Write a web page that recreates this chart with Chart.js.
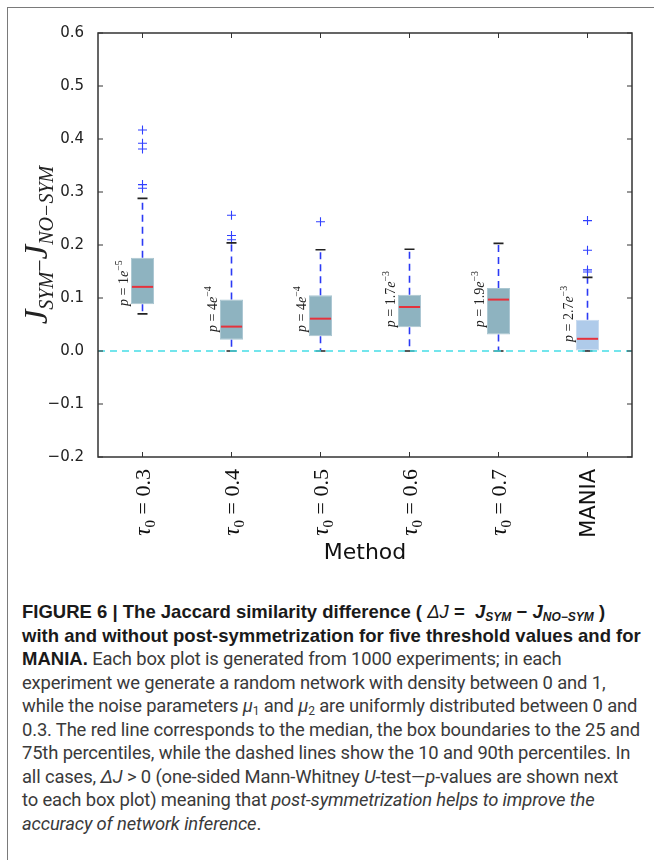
<!DOCTYPE html>
<html>
<head>
<meta charset="utf-8">
<script src="https://cdn.jsdelivr.net/npm/chart.js@4"></script>
<style>
  body { margin: 0; width: 654px; height: 860px; background: #fff; position: relative; overflow: hidden; }
  #outer { position: absolute; left: 7px; top: 7px; right: 0; bottom: 0; border-left: 1.5px solid #7a7a7a; border-top: 1.5px solid #7a7a7a; }
  #chartBox { position: absolute; left: 0; top: 0; }
  #caption { position: absolute; left: 22px; top: 600px; font-family: Roboto, "Liberation Sans", sans-serif; font-size: 18.4px; line-height: 23.5px; color: #3a3a3a; white-space: nowrap; letter-spacing: -0.15px; }
  #caption b { color: #1a1a1a; font-family: "Liberation Sans", Arial, sans-serif; font-size: 18.5px; letter-spacing: 0; }
  #caption sub { font-size: 12px; vertical-align: -3px; line-height: 0; }
</style>
</head>
<body>
<div id="outer"></div>
<div id="chartBox"><canvas id="myChart" width="654" height="570"></canvas></div>
<div id="caption">
<b>FIGURE 6 | The Jaccard similarity difference (&nbsp;<i style="font-weight:normal">ΔJ</i> =&nbsp;&nbsp;<i>J<sub>SYM</sub></i>&nbsp;− <i>J<sub>NO−SYM</sub></i>&nbsp;)</b><br>
<b>with and without post-symmetrization for five threshold values and for</b><br>
<b>MANIA.</b> Each box plot is generated from 1000 experiments; in each<br>
experiment we generate a random network with density between 0 and 1,<br>
while the noise parameters <i>μ</i><sub>1</sub> and <i>μ</i><sub>2</sub> are uniformly distributed between 0 and<br>
0.3. The red line corresponds to the median, the box boundaries to the 25 and<br>
75th percentiles, while the dashed lines show the 10 and 90th percentiles. In<br>
all cases, <i>ΔJ</i> &gt; 0 (one-sided Mann-Whitney <i>U</i>-test—<i>p</i>-values are shown next<br>
to each box plot) meaning that <i>post-symmetrization helps to improve the</i><br>
<i>accuracy of network inference</i>.
</div>
<script>
// Data
const categories = ["τ₀ = 0.3", "τ₀ = 0.4", "τ₀ = 0.5", "τ₀ = 0.6", "τ₀ = 0.7", "MANIA"];
const whiskerLow = [0.070, 0.0, 0.0, 0.0, 0.0, 0.0];
const q1 = [0.088, 0.021, 0.028, 0.045, 0.031, 0.001];
const medians = [0.121, 0.046, 0.061, 0.083, 0.097, 0.023];
const q3 = [0.176, 0.097, 0.105, 0.106, 0.119, 0.059];
const whiskerHigh = [0.288, 0.204, 0.191, 0.192, 0.203, 0.139];
const outliers = [
  [0.417, 0.392, 0.381, 0.314, 0.307],
  [0.256, 0.218, 0.210],
  [0.244],
  [],
  [],
  [0.246, 0.190, 0.153, 0.149],
];
const pValues = ["1e", "4e", "4e", "1.7e", "1.9e", "2.7e"];
const pExponents = ["−5", "−4", "−4", "−3", "−3", "−3"];
const pLabelAt = [0.085, 0.036, 0.036, 0.045, 0.045, 0.017];
const yTicks = [-0.2, -0.1, 0.0, 0.1, 0.2, 0.3, 0.4, 0.5, 0.6];

const outlierPoints = [];
outliers.forEach((list, i) => list.forEach(v => outlierPoints.push({ x: categories[i], y: v })));

// draw a run of [font, text, dy] pieces at the current origin
function drawRun(ctx, parts, startX) {
  let px = startX;
  parts.forEach(p => {
    ctx.font = p[0];
    ctx.fillText(p[1], px, p[2]);
    px += ctx.measureText(p[1]).width;
  });
}
function runWidth(ctx, parts) {
  let w = 0;
  parts.forEach(p => { ctx.font = p[0]; w += ctx.measureText(p[1]).width; });
  return w;
}

// whiskers, medians, frame, labels
const boxExtras = {
  id: "boxExtras",
  afterDatasetsDraw(chart) {
    const { ctx, chartArea: a, scales: { x, y } } = chart;
    const bars = chart.getDatasetMeta(0).data;
    ctx.save();
    categories.forEach((c, i) => {
      const cx = x.getPixelForValue(i);
      const half = bars[i].width / 2;
      // dashed whiskers
      ctx.setLineDash([7, 5]);
      ctx.strokeStyle = "#2b3af5";
      ctx.lineWidth = 1.6;
      ctx.beginPath();
      ctx.moveTo(cx, y.getPixelForValue(q3[i]));
      ctx.lineTo(cx, y.getPixelForValue(whiskerHigh[i]));
      ctx.moveTo(cx, y.getPixelForValue(q1[i]));
      ctx.lineTo(cx, y.getPixelForValue(whiskerLow[i]));
      ctx.stroke();
      // caps
      ctx.setLineDash([]);
      ctx.strokeStyle = "#222";
      ctx.beginPath();
      [whiskerHigh[i], whiskerLow[i]].forEach(v => {
        const py = y.getPixelForValue(v);
        ctx.moveTo(cx - 5, py);
        ctx.lineTo(cx + 5, py);
      });
      ctx.stroke();
      // median
      ctx.strokeStyle = "#e5323c";
      ctx.lineWidth = 2;
      ctx.beginPath();
      const my = y.getPixelForValue(medians[i]);
      ctx.moveTo(cx - half + 1, my);
      ctx.lineTo(cx + half - 1, my);
      ctx.stroke();
      // p-value label, rotated
      ctx.save();
      ctx.translate(cx - half - 3, y.getPixelForValue(pLabelAt[i]));
      ctx.rotate(-Math.PI / 2);
      ctx.fillStyle = "#222";
      ctx.textBaseline = "alphabetic";
      ctx.textAlign = "left";
      drawRun(ctx, [
        ["italic 14px 'Liberation Serif'", "p", 0],
        ["14px 'Liberation Serif'", " = " + pValues[i].replace("e", ""), 0],
        ["italic 14px 'Liberation Serif'", "e", 0],
        ["10px 'Liberation Serif'", pExponents[i], -6],
      ], 0);
      ctx.restore();
      // category label, rotated, ending just under the axis
      const parts = c.startsWith("τ₀")
        ? [
            ["italic 23px 'Liberation Serif'", "τ", 0],
            ["15px 'Liberation Serif'", "0", 5],
            ["22px 'Liberation Serif'", " =", 0],
            ["22px 'Liberation Serif'", c.split("=")[1], 0],
          ]
        : [["21px 'DejaVu Sans'", c, 0]];
      ctx.save();
      ctx.translate(cx, a.bottom + 12);
      ctx.rotate(-Math.PI / 2);
      ctx.fillStyle = "#111";
      ctx.textAlign = "left";
      ctx.textBaseline = "alphabetic";
      ctx.translate(0, 7.5);
      drawRun(ctx, parts, -runWidth(ctx, parts));
      ctx.restore();
    });
    // zero reference line
    const zy = y.getPixelForValue(0);
    ctx.setLineDash([7, 5]);
    ctx.strokeStyle = "#45dde6";
    ctx.lineWidth = 1.5;
    ctx.beginPath();
    ctx.moveTo(a.left, zy);
    ctx.lineTo(a.right, zy);
    ctx.stroke();
    ctx.setLineDash([]);
    // frame and inward ticks
    ctx.strokeStyle = "#333";
    ctx.lineWidth = 1;
    ctx.beginPath();
    yTicks.forEach(v => {
      const py = y.getPixelForValue(v);
      ctx.moveTo(a.left, py); ctx.lineTo(a.left + 5, py);
      ctx.moveTo(a.right, py); ctx.lineTo(a.right - 5, py);
    });
    categories.forEach((c, i) => {
      const px = x.getPixelForValue(i);
      ctx.moveTo(px, a.bottom); ctx.lineTo(px, a.bottom - 5);
      ctx.moveTo(px, a.top); ctx.lineTo(px, a.top + 5);
    });
    ctx.stroke();
    ctx.lineWidth = 1.5;
    ctx.strokeRect(a.left, a.top, a.right - a.left, a.bottom - a.top);
    // y axis title J_SYM − J_NO−SYM
    const title = [
      ["italic 33px 'Liberation Serif'", "J", 0],
      ["italic 20px 'Liberation Serif'", "SYM", 6],
      ["22px 'Liberation Serif'", "−", 0],
      ["italic 33px 'Liberation Serif'", "J", 0],
      ["italic 20px 'Liberation Serif'", "NO−SYM", 6],
    ];
    ctx.save();
    ctx.translate(47, (a.top + a.bottom) / 2);
    ctx.rotate(-Math.PI / 2);
    ctx.fillStyle = "#222";
    ctx.textBaseline = "alphabetic";
    ctx.textAlign = "left";
    drawRun(ctx, title, -runWidth(ctx, title) / 2);
    ctx.restore();
    ctx.restore();
  },
};

const ctxChart = document.getElementById("myChart").getContext("2d");
const myChart = new Chart(ctxChart, {
  type: "bar",
  data: {
    labels: categories,
    datasets: [
      {
        type: "bar",
        data: q1.map((v, i) => [v, q3[i]]),
        backgroundColor: categories.map((c, i) => (i === 5 ? "#afcbea" : "#8eb3c0")),
        borderColor: categories.map((c, i) => (i === 5 ? "#c6d9ee" : "#aac6d1")),
        borderWidth: 1,
        borderSkipped: false,
        barPercentage: 0.26,
        categoryPercentage: 1,
      },
      {
        type: "line",
        data: outlierPoints,
        showLine: false,
        pointStyle: "cross",
        pointRadius: 4.5,
        pointBorderColor: "#3040ff",
        pointBorderWidth: 1.1,
      },
    ],
  },
  options: {
    responsive: false,
    animation: false,
    layout: { padding: { top: 33, right: 22, left: 0, bottom: 0 } },
    plugins: { legend: { display: false }, tooltip: { enabled: false } },
    scales: {
      x: {
        grid: { display: false },
        border: { display: false },
        ticks: { display: false },
        title: {
          display: true,
          text: "Method",
          color: "#111",
          font: { family: "DejaVu Sans", size: 22 },
          padding: { top: 4, bottom: 4 },
        },
        afterFit: (scale) => { scale.height = 113; },
      },
      y: {
        min: -0.2,
        max: 0.6,
        grid: { display: false },
        border: { display: false },
        afterBuildTicks: (scale) => { scale.ticks = yTicks.map(v => ({ value: v })); },
        ticks: {
          padding: 6,
          color: "#222",
          font: { family: "DejaVu Sans", size: 15 },
          callback: (v) => Number(v).toFixed(1).replace("-", "−"),
        },
        afterFit: (scale) => { scale.width = 98; },
      },
    },
  },
  plugins: [boxExtras],
});
</script>
</body>
</html>
